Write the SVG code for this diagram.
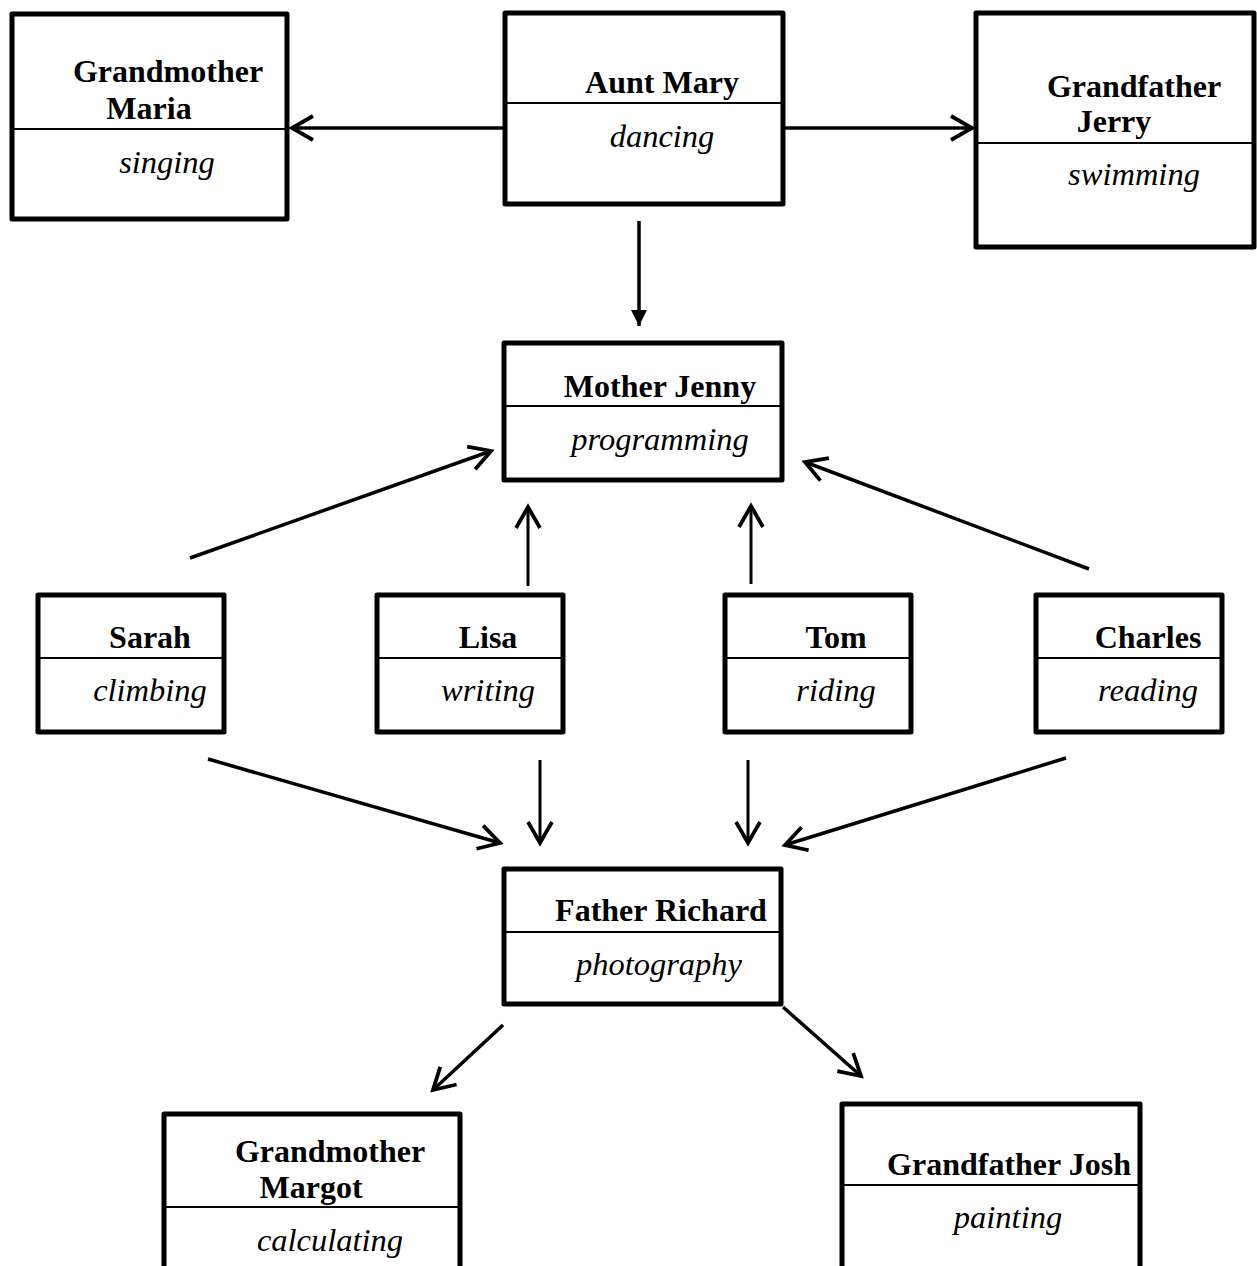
<svg xmlns="http://www.w3.org/2000/svg" width="1257" height="1266" viewBox="0 0 1257 1266">
<style>
.box{fill:#fff;stroke:#000;stroke-width:5;stroke-linejoin:round}
.div{stroke:#000;stroke-width:2}
.name{font-family:"Liberation Serif","Times New Roman",serif;font-weight:bold;font-size:32px;fill:#000;text-anchor:middle}
.hob{font-family:"Liberation Serif","Times New Roman",serif;font-style:italic;font-size:32.5px;fill:#000;text-anchor:middle}
.ln{stroke:#000;stroke-width:3.5;fill:none}
.lv{stroke:#000;stroke-width:3;fill:none}
</style>
<defs>
<marker id="open" markerUnits="userSpaceOnUse" viewBox="-26 -15 30 30" markerWidth="30" markerHeight="30" refX="0" refY="0" orient="auto" overflow="visible">
<path d="M-21,-12 L0,0 L-21,12" fill="none" stroke="#000" stroke-width="3.8" stroke-linejoin="miter"/>
</marker>
<marker id="filled" markerUnits="userSpaceOnUse" viewBox="-20 -10 22 20" markerWidth="22" markerHeight="20" refX="0" refY="0" orient="auto" overflow="visible">
<path d="M-16,-8 L0,0 L-16,8 Z" fill="#000"/>
</marker>
</defs>
<rect width="1257" height="1266" fill="#fff"/>
<g id="connectors">
<line class="ln" x1="503" y1="128" x2="292" y2="128" marker-end="url(#open)"/>
<line class="ln" x1="785" y1="128" x2="972" y2="128" marker-end="url(#open)"/>
<line class="ln" x1="639" y1="221" x2="639" y2="326" marker-end="url(#filled)"/>
<line class="ln" x1="190" y1="558" x2="491" y2="451" marker-end="url(#open)"/>
<line class="lv" x1="528" y1="586" x2="528" y2="507" marker-end="url(#open)"/>
<line class="lv" x1="751" y1="584" x2="751" y2="506" marker-end="url(#open)"/>
<line class="ln" x1="1089" y1="569" x2="805" y2="462" marker-end="url(#open)"/>
<line class="ln" x1="208" y1="759" x2="500" y2="843" marker-end="url(#open)"/>
<line class="lv" x1="540" y1="760" x2="540" y2="843" marker-end="url(#open)"/>
<line class="lv" x1="748" y1="760" x2="748" y2="843" marker-end="url(#open)"/>
<line class="ln" x1="1066" y1="758" x2="785" y2="845" marker-end="url(#open)"/>
<line class="ln" x1="503" y1="1025" x2="433" y2="1090" marker-end="url(#open)"/>
<line class="ln" x1="783" y1="1007" x2="861" y2="1076" marker-end="url(#open)"/>
</g>
<g id="grandmother-maria">
<rect class="box" x="12" y="14" width="275" height="205"/>
<line class="div" x1="12" y1="129" x2="287" y2="129"/>
<text class="name" x="168" y="82">Grandmother</text>
<text class="name" x="149" y="119">Maria</text>
<text class="hob" x="167" y="173">singing</text>
</g>
<g id="aunt-mary">
<rect class="box" x="505" y="13" width="278" height="191"/>
<line class="div" x1="505" y1="103" x2="783" y2="103"/>
<text class="name" x="662" y="93">Aunt Mary</text>
<text class="hob" x="662" y="147">dancing</text>
</g>
<g id="grandfather-jerry">
<rect class="box" x="976" y="13" width="278" height="234"/>
<line class="div" x1="976" y1="143" x2="1254" y2="143"/>
<text class="name" x="1134" y="97">Grandfather</text>
<text class="name" x="1114" y="132">Jerry</text>
<text class="hob" x="1134" y="185">swimming</text>
</g>
<g id="mother-jenny">
<rect class="box" x="504" y="343" width="278" height="137"/>
<line class="div" x1="504" y1="406" x2="782" y2="406"/>
<text class="name" x="660" y="397">Mother Jenny</text>
<text class="hob" x="660" y="450">programming</text>
</g>
<g id="sarah">
<rect class="box" x="38" y="595" width="186" height="137"/>
<line class="div" x1="38" y1="658" x2="224" y2="658"/>
<text class="name" x="150" y="648">Sarah</text>
<text class="hob" x="150" y="701">climbing</text>
</g>
<g id="lisa">
<rect class="box" x="377" y="595" width="186" height="137"/>
<line class="div" x1="377" y1="658" x2="563" y2="658"/>
<text class="name" x="488" y="648">Lisa</text>
<text class="hob" x="488" y="701">writing</text>
</g>
<g id="tom">
<rect class="box" x="725" y="595" width="186" height="137"/>
<line class="div" x1="725" y1="658" x2="911" y2="658"/>
<text class="name" x="836" y="648">Tom</text>
<text class="hob" x="836" y="701">riding</text>
</g>
<g id="charles">
<rect class="box" x="1036" y="595" width="186" height="137"/>
<line class="div" x1="1036" y1="658" x2="1222" y2="658"/>
<text class="name" x="1148" y="648">Charles</text>
<text class="hob" x="1148" y="701">reading</text>
</g>
<g id="father-richard">
<rect class="box" x="504" y="869" width="277" height="135"/>
<line class="div" x1="504" y1="932" x2="781" y2="932"/>
<text class="name" x="661" y="921">Father Richard</text>
<text class="hob" x="659" y="975">photography</text>
</g>
<g id="grandmother-margot">
<rect class="box" x="164" y="1114" width="296" height="200"/>
<line class="div" x1="164" y1="1207" x2="460" y2="1207"/>
<text class="name" x="330" y="1162">Grandmother</text>
<text class="name" x="311" y="1198">Margot</text>
<text class="hob" x="330" y="1251">calculating</text>
</g>
<g id="grandfather-josh">
<rect class="box" x="842" y="1104" width="298" height="200"/>
<line class="div" x1="842" y1="1185" x2="1140" y2="1185"/>
<text class="name" x="1009" y="1175">Grandfather Josh</text>
<text class="hob" x="1008" y="1228">painting</text>
</g>
</svg>
